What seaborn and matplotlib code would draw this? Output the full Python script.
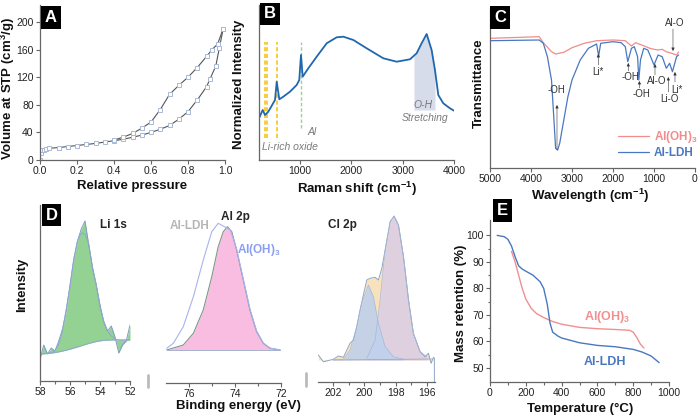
import matplotlib
matplotlib.use("Agg")
import matplotlib.pyplot as plt
from matplotlib.lines import Line2D
import seaborn as sns
import pandas as pd

sns.set_theme(style="ticks")
plt.rcParams['font.family'] = ['Liberation Sans', 'DejaVu Sans']
plt.rcParams['mathtext.fontset'] = 'custom'
plt.rcParams['mathtext.rm'] = 'Liberation Sans'
plt.rcParams['mathtext.bf'] = 'Liberation Sans:bold'

# ---- A: N2 isotherm
ads_p = [0.0, 0.005, 0.01, 0.02, 0.03, 0.05, 0.1, 0.15, 0.2, 0.25, 0.3, 0.35, 0.4, 0.45, 0.5,
         0.55, 0.6, 0.65, 0.7, 0.75, 0.8, 0.85, 0.9, 0.92, 0.95, 0.97, 0.99]
ads_v = [0, 10, 14, 15, 16, 17, 18, 19.5, 21, 22.5, 24, 26, 28, 30, 33,
         36, 40, 44.5, 50, 59, 70, 87, 106, 118, 136, 163, 190]
des_p = [0.99, 0.96, 0.93, 0.9, 0.85, 0.8, 0.75, 0.7, 0.65, 0.6, 0.55, 0.5, 0.45, 0.4]
des_v = [190, 168, 160, 150, 134, 120, 108, 95, 73, 55, 46, 38.5, 33, 29]

# ---- B: Raman
raman_x = [200, 272, 317, 381, 512, 545, 596, 673, 804, 934, 985, 1018, 1051, 1161, 1324, 1519,
           1714, 1844, 2039, 2298, 2623, 2883, 3142, 3272, 3369, 3467, 3564, 3629, 3694, 3791, 3921, 4000]
raman_y = [41.7, 50, 45, 48.3, 60, 78.3, 60.7, 63.3, 68.3, 75, 80, 105, 83.3, 91.7, 103.3, 116.7,
           122.7, 123.3, 120, 111.7, 101.7, 98.3, 100.7, 106.7, 116.7, 126, 110, 90, 65, 56.7, 51.7, 49.3]
oh_x = [3220, 3272, 3369, 3467, 3564, 3629]
oh_y = [104, 106.7, 116.7, 126, 110, 90]
li_lines = [317, 350, 545]
al_line = 1018

# ---- C: FTIR
aloh_x = [5000, 3800, 3700, 3500, 3400, 3200, 3000, 2700, 2400, 2000, 1700, 1550, 1450, 1300,
          1100, 1000, 900, 800, 700, 570, 450, 400]
aloh_y = [129.7, 131.3, 125.3, 116.3, 114, 115.7, 120.3, 124.7, 127.3, 128, 127.3, 122, 125.3, 123,
          119.7, 118.7, 118, 118.7, 116.3, 114.7, 113, 116]
ldh_x = [5000, 3800, 3700, 3600, 3500, 3450, 3400, 3350, 3300, 3200, 3100, 3000, 2800, 2600, 2400,
         2350, 2300, 2000, 1800, 1700, 1640, 1550, 1480, 1400, 1370, 1330, 1250, 1150, 1000, 900,
         800, 700, 620, 550, 450, 400]
ldh_y = [127.3, 128, 124.7, 111.3, 88, 54.7, 19.7, 18, 24.7, 48, 71.3, 88, 108, 119.7, 124,
         112, 124.7, 126.3, 125.3, 121.3, 106.3, 119.7, 121.3, 111.3, 88, 108, 119.7, 118, 103, 113,
         111.3, 99.7, 104.7, 96.3, 111.3, 113]
ftir_labels = ['-OH', 'Li*', '-OH', '-OH', 'Al-O', 'Li-O', 'Li*', 'Al-O']
ftir_text = [(3373, 78), (2358, 96), (1568, 91), (1317, 74), (934, 87), (634, 69), (446, 78), (488, 145)]
ftir_tip = [(3366, 63), (2358, 114), (1627, 105), (1356, 87), (976, 104), (651, 91), (488, 96), (537, 117)]
ftir_base = [(3366, 18), (2358, 103), (1627, 97), (1356, 80), (976, 93), (651, 76), (488, 86), (537, 139)]

# ---- D: XPS
li_x = [58.0, 57.75, 57.5, 57.25, 57.0, 56.75, 56.5, 56.25, 56.0, 55.75, 55.5, 55.25, 55.0,
        54.75, 54.5, 54.25, 54.0, 53.75, 53.5, 53.25, 53.0, 52.75, 52.5, 52.25, 52.0]
li_bg = [27, 27.2, 27.5, 27.9, 28.4, 29.1, 29.9, 30.8, 31.8, 32.9, 34.0, 35.2, 36.4,
         37.5, 38.5, 39.4, 40.1, 40.6, 40.9, 41.0, 41.0, 41.0, 41.0, 41.0, 41.0]
li_fit = [27, 27.3, 27.6, 28.5, 30, 37, 50, 72, 94, 121, 140, 148, 147,
          137, 114, 96, 74, 60, 50, 45, 42, 41, 41, 41, 41]
li_raw = [22, 36, 27, 33, 30, 40, 52, 70, 96, 122, 140, 152, 160,
          136, 113, 96, 76, 59, 50, 55, 44, 28, 36, 40, 56]

al_oh_x = [76.97, 76.25, 75.81, 75.38, 75.01, 74.73, 74.51, 74.33, 74.14, 73.93, 73.64, 73.35,
           73.06, 72.77, 72.48, 72.04]
al_oh_y = [33, 38, 49.7, 73, 106.3, 136.3, 151.3, 156.3, 151.3, 133, 103, 73, 51.3, 39.7, 34.7, 33]
al_ldh_x = [76.97, 76.68, 76.25, 75.81, 75.38, 75.01, 74.73, 74.43, 74.2, 73.93, 73.64, 73.35,
            73.06, 72.77, 72.48, 72.04]
al_ldh_y = [34.7, 39.7, 56.3, 86.3, 123, 151.3, 159.7, 156, 153, 134, 104, 74, 52, 40, 35, 33]

cl_x = [202.94, 202.62, 201.98, 201.66, 201.34, 200.92, 200.7, 200.49, 200.28, 199.85, 199.64,
        199.32, 199.11, 198.89, 198.68, 198.36, 198.11, 197.83, 197.51, 197.19, 196.88, 196.45,
        196.13, 195.92, 195.75, 195.6, 195.54, 195.54]
cl_y = [27, 20.3, 22.7, 26, 24.7, 38.7, 42, 55.3, 72, 102, 103.7, 104.7, 102, 113.7, 132, 160.3,
        166, 157, 125.3, 82, 48.7, 30.3, 25.3, 28.7, 18.7, 24.7, 23.7, 0]
cl_a_x = [201.98, 201.34, 200.92, 200.49, 200.17, 199.75, 199.43, 199.11, 198.68, 198.15, 197.51]
cl_a_y = [22, 22.7, 32, 55.3, 78.7, 97, 85.3, 58.7, 35.3, 25.3, 22.7]
cl_b_x = [199.85, 199.32, 199.0, 198.68, 198.36, 198.11, 197.83, 197.51, 197.19, 196.88, 196.45, 196.02]
cl_b_y = [23.7, 42, 82, 132, 160.3, 165.3, 157, 125.3, 82, 48.7, 30.3, 25.3]

# ---- E: TGA
tga_ldh_t = [40, 80, 100, 120, 140, 160, 180, 200, 240, 280, 300, 320, 335, 350, 380, 400,
             500, 600, 700, 800, 850, 900, 945]
tga_ldh_m = [100, 99.5, 98.5, 96, 92, 88.5, 87.3, 86.5, 85, 82.5, 80, 74, 67, 63.5, 62, 61.3,
             59.5, 58.5, 58, 57, 56, 54.5, 52]
tga_oh_t = [120, 140, 160, 180, 200, 230, 260, 300, 350, 400, 500, 600, 700, 780, 800, 820, 840, 860]
tga_oh_m = [94, 90, 85, 80, 76, 72.5, 70.5, 69, 67.5, 66.5, 65.3, 64.8, 64.5, 64.2, 63.5, 61.5, 59, 57.5]

W, H = 700, 416
fig = plt.figure(figsize=(7, 4.16), dpi=100)


def rect(l, r, t, b):
    return [l / W, 1 - b / H, (r - l) / W, (b - t) / H]


def style(ax, left=True):
    sns.despine(ax=ax, left=not left)
    for s in ('left', 'bottom'):
        ax.spines[s].set_color('#666666')
        ax.spines[s].set_linewidth(0.9)
    ax.tick_params(which='both', direction='out', color='#666666', labelsize=7.5,
                   pad=1.5, length=3, width=0.8, labelcolor='#222222')
    ax.tick_params(which='minor', length=1.8)


lab = dict(fontsize=9.5, fontweight='bold', color='#111111')

# A
axA = fig.add_axes(rect(40, 225, 5, 160))
sns.lineplot(x=ads_p, y=ads_v, sort=False, estimator=None, ax=axA, color='#555555', lw=0.8,
             marker='s', markersize=2.6, markerfacecolor='white', markeredgecolor='#a9b8d4', markeredgewidth=0.7)
sns.lineplot(x=des_p, y=des_v, sort=False, estimator=None, ax=axA, color='#555555', lw=0.8,
             marker='s', markersize=2.6, markerfacecolor='white', markeredgecolor='#a9b8d4', markeredgewidth=0.7)
axA.set_xlim(0, 1.0)
axA.set_ylim(0, 224.6)
axA.set_xticks([0, 0.2, 0.4, 0.6, 0.8, 1.0])
axA.set_yticks([0, 40, 80, 120, 160, 200])
style(axA)
axA.set_xlabel('Relative pressure', **lab)
axA.set_ylabel('Volume at STP (cm$^\\mathbf{3}$/g)', **lab)
axA.xaxis.set_label_coords(0.497, -0.13)
axA.yaxis.set_label_coords(-0.125, 0.465)

# B
axB = fig.add_axes(rect(259, 454, 5, 160))
axB.fill_between(oh_x, 50, oh_y, color='#d6dcea', lw=0)
for xv in li_lines:
    axB.plot([xv, xv], [22, 118], ls=(0, (2.5, 1.5)), color='#f5c518', lw=1.2)
axB.plot([al_line, al_line], [32, 118], ls=(0, (2.5, 1.5)), color='#9ad29a', lw=1.0)
sns.lineplot(x=raman_x, y=raman_y, ax=axB, color='#1f68b0', lw=1.3, estimator=None)
axB.text(3400, 55, 'O-H', fontsize=7.5, style='italic', color='#7a7a7a', ha='center', va='center')
axB.text(3430, 42, 'Stretching', fontsize=7.5, style='italic', color='#7a7a7a', ha='center', va='center')
axB.text(1226, 28, 'Al', fontsize=7.5, style='italic', color='#7a7a7a', ha='center', va='center')
axB.text(265, 13, 'Li-rich oxide', fontsize=7.5, style='italic', color='#7a7a7a', ha='left', va='center')
axB.set_xlim(200, 4000)
axB.set_ylim(0, 155)
axB.set_xticks([1000, 2000, 3000, 4000])
axB.set_yticks([])
style(axB)
axB.set_xlabel('Raman shift (cm$^{\\mathbf{-1}}$)', **lab)
axB.set_ylabel('Normalized Intensity', **lab)
axB.xaxis.set_label_coords(0.503, -0.13)
axB.yaxis.set_label_coords(-0.07, 0.49)

# C
axC = fig.add_axes(rect(490, 695, 8, 168))
sns.lineplot(x=aloh_x, y=aloh_y, ax=axC, color='#f28b8b', lw=0.9, estimator=None, label='Al(OH)$_\\mathbf{3}$')
sns.lineplot(x=ldh_x, y=ldh_y, ax=axC, color='#4a78c0', lw=0.9, estimator=None, label='Al-LDH')
for t, (tx, ty), tip, base in zip(ftir_labels, ftir_text, ftir_tip, ftir_base):
    axC.annotate('', xy=tip, xytext=base,
                 arrowprops=dict(arrowstyle='-|>', color='#333333', lw=0.4, mutation_scale=4.5,
                                 shrinkA=0, shrinkB=0))
    axC.text(tx, ty, t, fontsize=7, color='#333333', ha='center', va='center')
axC.set_xlim(5000, 0)
axC.set_ylim(0, 160)
axC.set_xticks([5000, 4000, 3000, 2000, 1000, 0])
axC.set_yticks([])
style(axC)
leg = axC.legend(loc='upper right', bbox_to_anchor=(1.04, 0.28), frameon=False, labelcolor='linecolor',
                 prop=dict(weight='bold', size=8.5), handlelength=2.6, handletextpad=0.4,
                 labelspacing=0.15, borderpad=0)
axC.set_xlabel('Wavelength (cm$^{\\mathbf{-1}}$)', **lab)
axC.set_ylabel('Transmittance', **lab)
axC.xaxis.set_label_coords(0.49, -0.115)
axC.yaxis.set_label_coords(-0.025, 0.53)

# D - Li 1s
axD1 = fig.add_axes(rect(40, 130, 205, 381))
axD1.fill_between(li_x, li_bg, li_raw, color='#93d293', lw=0)
sns.lineplot(x=li_x, y=li_raw, ax=axD1, color='#7d9cc6', lw=0.7, estimator=None)
sns.lineplot(x=li_x, y=li_fit, ax=axD1, color='#8fa8cc', lw=0.7, estimator=None)
sns.lineplot(x=li_x, y=li_bg, ax=axD1, color='#8fa8cc', lw=0.7, estimator=None)
axD1.text(53.1, 156, 'Li 1s', fontsize=8.5, fontweight='bold', ha='center', va='center')
axD1.set_xlim(58, 52)
axD1.set_ylim(0, 176)
axD1.set_xticks([58, 56, 54, 52])
axD1.set_xticks([57, 55, 53], minor=True)
axD1.set_yticks([])
style(axD1)
axD1.set_ylabel('Intensity', **lab)
axD1.yaxis.set_label_coords(-0.135, 0.545)

# D - Al 2p
axD2 = fig.add_axes(rect(166, 281, 205, 383))
axD2.fill_between(al_oh_x, 33, al_oh_y, color='#f8bde0', lw=0)
sns.lineplot(x=al_oh_x, y=al_oh_y, ax=axD2, color='#7f978a', lw=0.8, estimator=None)
sns.lineplot(x=al_ldh_x, y=al_ldh_y, ax=axD2, color='#a9b2f2', lw=0.8, estimator=None, sort=False)
axD2.plot([76.97, 72.04], [33, 33], color='#9aaac8', lw=0.6)
axD2.text(74.0, 166, 'Al 2p', fontsize=8.5, fontweight='bold', ha='center', va='center')
axD2.text(75.96, 157, 'Al-LDH', fontsize=8.5, fontweight='bold', color='#b5b5b5', ha='center', va='center')
axD2.text(72.96, 133, 'Al(OH)$_\\mathbf{3}$', fontsize=8.5, fontweight='bold', color='#8a9ef2',
          ha='center', va='center')
axD2.set_xlim(77, 72)
axD2.set_ylim(0, 178)
axD2.set_xticks([76, 74, 72])
axD2.set_xticks([75, 73], minor=True)
axD2.set_yticks([])
style(axD2, left=False)

# D - Cl 2p
axD3 = fig.add_axes(rect(318, 435, 205, 382))
axD3.fill_between(cl_x[:-1], 22, cl_y[:-1], color='#f8e2bd', lw=0)
axD3.fill_between(cl_b_x, 22, cl_b_y, color='#dccfe3', lw=0, alpha=0.9)
axD3.fill_between(cl_a_x, 22, cl_a_y, color='#bcd0ee', lw=0, alpha=0.85)
sns.lineplot(x=cl_x, y=cl_y, ax=axD3, color='#8fa3c8', lw=0.7, estimator=None, sort=False)
sns.lineplot(x=cl_a_x, y=cl_a_y, ax=axD3, color='#a6b8d8', lw=0.5, estimator=None)
sns.lineplot(x=cl_b_x, y=cl_b_y, ax=axD3, color='#a6b8d8', lw=0.5, estimator=None)
axD3.plot([202.0, 195.7], [22, 23], color='#9aaac8', lw=0.6)
axD3.text(201.4, 157, 'Cl 2p', fontsize=8.5, fontweight='bold', ha='center', va='center')
axD3.set_xlim(202.96, 195.5)
axD3.set_ylim(0, 177)
axD3.set_xticks([202, 200, 198, 196])
axD3.set_xticks([201, 199, 197], minor=True)
axD3.set_yticks([])
style(axD3, left=False)

fig.text(238.5 / W, 1 - 406 / H, 'Binding energy (eV)', ha='center', va='center', **lab)
for bx, by0, by1 in [(148, 375, 387), (306, 373, 386)]:
    fig.add_artist(Line2D([bx / W, bx / W], [1 - by0 / H, 1 - by1 / H], color='#bbbbbb', lw=2))

# E
axE = fig.add_axes(rect(490, 669, 220, 382))
sns.lineplot(x=tga_oh_t, y=tga_oh_m, ax=axE, color='#f09090', lw=1.0, estimator=None)
sns.lineplot(x=tga_ldh_t, y=tga_ldh_m, ax=axE, color='#4a78c0', lw=1.0, estimator=None)
axE.text(653, 69.4, 'Al(OH)$_\\mathbf{3}$', fontsize=9, fontweight='bold', color='#f09090',
         ha='center', va='center')
axE.text(641, 52.2, 'Al-LDH', fontsize=9, fontweight='bold', color='#4a78c0', ha='center', va='center')
axE.set_xlim(0, 1000)
axE.set_ylim(44.7, 105.8)
axE.set_xticks([0, 200, 400, 600, 800, 1000])
axE.set_xticks([100, 300, 500, 700, 900], minor=True)
axE.set_yticks([50, 60, 70, 80, 90, 100])
axE.set_yticks([55, 65, 75, 85, 95], minor=True)
style(axE)
axE.set_xlabel('Temperature (°C)', **lab)
axE.set_ylabel('Mass retention (%)', **lab)
axE.xaxis.set_label_coords(0.503, -0.13)
axE.yaxis.set_label_coords(-0.128, 0.488)

# panel letters
for letter, cx, cy in [('A', 51, 17.5), ('B', 270, 14), ('C', 500, 17.5), ('D', 51.5, 215), ('E', 502.5, 210.5)]:
    fig.text(cx / W, 1 - cy / H, letter, color='white', fontsize=12, fontweight='bold',
             ha='center', va='center',
             bbox=dict(boxstyle='square,pad=0.22', fc='black', ec='none'))

fig.savefig('out.png', dpi=100)
